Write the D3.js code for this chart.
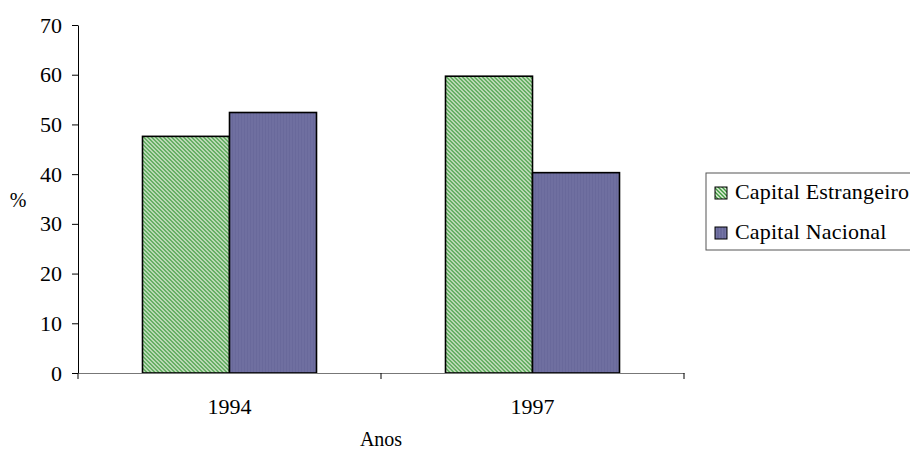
<!DOCTYPE html>
<html>
<head>
<meta charset="utf-8">
<script src="https://cdn.jsdelivr.net/npm/d3@7"></script>
<style>
  body { margin: 0; background: #fff; }
  svg text { font-family: "Liberation Serif", "DejaVu Serif", serif; fill: #000; }
</style>
</head>
<body>
<svg id="chart" width="910" height="452"></svg>
<script>
const years = ['1994', '1997'];
const seriesNames = ['Capital Estrangeiro', 'Capital Nacional'];
const estrangeiro = [47.6, 59.7];
const nacional = [52.4, 40.3];
const yTicks = [0, 10, 20, 30, 40, 50, 60, 70];

const rows = years.map((y, i) => ({ year: y, values: [estrangeiro[i], nacional[i]] }));

const svg = d3.select('#chart');
const defs = svg.append('defs');

// green hatch (diagonal, top-left to bottom-right)
const pg = defs.append('pattern').attr('id', 'hatch-green')
  .attr('patternUnits', 'userSpaceOnUse').attr('width', 4).attr('height', 4);
pg.append('rect').attr('width', 4).attr('height', 4).attr('fill', '#e2ecdb');
pg.append('path').attr('d', 'M-1,-1 L5,5 M-1,3 L1,5 M3,-1 L5,1')
  .attr('stroke', '#3d9a3d').attr('stroke-width', 1.4);

// blue with faint vertical texture
const pb = defs.append('pattern').attr('id', 'hatch-blue')
  .attr('patternUnits', 'userSpaceOnUse').attr('width', 3).attr('height', 3);
pb.append('rect').attr('width', 3).attr('height', 3).attr('fill', '#69699b');
pb.append('rect').attr('x', 1).attr('width', 1).attr('height', 3).attr('fill', '#7575a5');

const fills = ['url(#hatch-green)', 'url(#hatch-blue)'];

const margin = { left: 78, right: 226, top: 25, bottom: 79 };
const W = 910, H = 452;
const font = 'Liberation Serif, DejaVu Serif, serif';

const x0 = d3.scaleBand().domain(years).range([margin.left, W - margin.right]).padding(0);
const groupW = 174;
const x1 = d3.scaleBand().domain([0, 1]).range([0, groupW]).padding(0);
const y = d3.scaleLinear().domain([0, 70]).range([H - margin.bottom, margin.top]);

// y axis
const yAxis = svg.append('g').attr('transform', `translate(${margin.left},0)`)
  .call(d3.axisLeft(y).tickValues(yTicks).tickSize(6).tickPadding(10).tickSizeOuter(0));
yAxis.select('.domain').attr('stroke', '#000');
yAxis.selectAll('.tick line').attr('stroke', '#000');
yAxis.selectAll('.tick text').attr('font-size', 22).attr('font-family', font);

// bars
const groups = svg.append('g').selectAll('g').data(rows).join('g')
  .attr('transform', (d) => `translate(${x0(d.year) + (x0.bandwidth() - groupW) / 2},0)`);
groups.selectAll('rect').data((d) => d.values.map((v, i) => ({ v, i }))).join('rect')
  .attr('x', (d) => x1(d.i))
  .attr('y', (d) => y(d.v))
  .attr('width', x1.bandwidth())
  .attr('height', (d) => y(0) - y(d.v))
  .attr('fill', (d) => fills[d.i])
  .attr('stroke', '#000')
  .attr('stroke-width', 1.6);

// x axis
const xAxis = svg.append('g').attr('transform', `translate(0,${y(0)})`)
  .call(d3.axisBottom(x0).tickSize(0).tickPadding(25));
xAxis.select('.domain').attr('stroke', '#777');
xAxis.selectAll('.tick text').attr('font-size', 22).attr('font-family', font);
// tick marks at band boundaries
const bounds = years.map((d) => x0(d)).concat([x0(years[years.length - 1]) + x0.bandwidth()]);
xAxis.selectAll('line.bound').data(bounds).join('line').attr('class', 'bound')
  .attr('x1', (d) => d).attr('x2', (d) => d)
  .attr('y1', 0).attr('y2', 6).attr('stroke', '#000');

// axis titles
svg.append('text').attr('x', 18).attr('y', 207).attr('text-anchor', 'middle')
  .attr('font-size', 20).attr('font-family', font).text('%');
svg.append('text').attr('x', 381).attr('y', 446).attr('text-anchor', 'middle')
  .attr('font-size', 20).attr('font-family', font).text('Anos');

// legend
const leg = svg.append('g').attr('transform', 'translate(706,173)');
leg.append('rect').attr('width', 230).attr('height', 77)
  .attr('fill', '#fff').attr('stroke', '#555').attr('stroke-width', 1);
const items = leg.selectAll('g.item').data(seriesNames).join('g').attr('class', 'item')
  .attr('transform', (d, i) => `translate(9,${19 + i * 40})`);
items.append('rect').attr('x', 0).attr('y', -5).attr('width', 12).attr('height', 12)
  .attr('fill', (d, i) => fills[i]).attr('stroke', '#000').attr('stroke-width', 1);
items.append('text').attr('x', 20).attr('y', 7).attr('font-size', 22).attr('font-family', font)
  .style('letter-spacing', '0.2px').text((d) => d);
</script>
</body>
</html>
